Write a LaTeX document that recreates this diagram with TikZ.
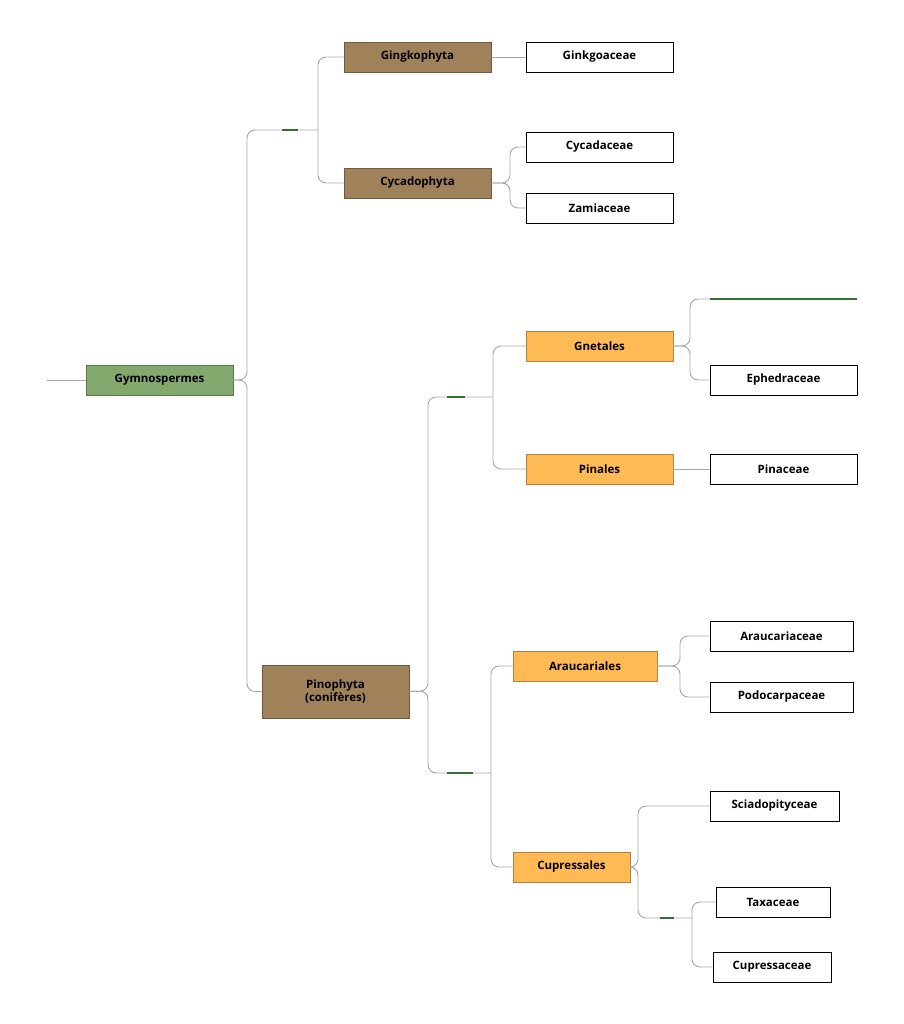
\documentclass[tikz,border=0pt]{standalone}
\usepackage{fontspec}
\setmainfont{Open Sans}
\begin{document}
\begin{tikzpicture}[x=1pt,y=-1pt,
 box/.style={draw=#1!70!black,line width=0.6pt,minimum height=30pt,font=\bfseries\fontsize{11.5}{13}\selectfont,inner sep=2pt},
 leaf/.style={draw=black,fill=white,line width=0.8pt,minimum width=147pt,minimum height=30pt,font=\bfseries\fontsize{11.5}{13}\selectfont},
 conn/.style={draw=gray!70,line width=0.9pt,rounded corners=8pt},
 gbar/.style={draw=green!40!black!60!gray,line width=1.6pt}]
\useasboundingbox (0,0) rectangle (903,1024);
\definecolor{gr}{HTML}{82A86E}\definecolor{br}{HTML}{A0825A}\definecolor{og}{HTML}{FFB955}
\node[box=gr,fill=gr,minimum width=147pt] (gym) at (159.5,380) {Gymnospermes};
\node[box=br,fill=br,minimum width=147pt] (gink) at (417.5,57) {Gingkophyta};
\node[box=br,fill=br,minimum width=147pt] (cyc) at (417.5,183) {Cycadophyta};
\node[box=br,fill=br,minimum width=147pt,minimum height=53pt,align=center] (pin) at (335.5,691.5) {Pinophyta\\(conifères)};
\node[box=og,fill=og,minimum width=147pt] (gne) at (599.5,346) {Gnetales};
\node[box=og,fill=og,minimum width=147pt] (pinl) at (599.5,469) {Pinales};
\node[box=og,fill=og,minimum width=144pt] (arau) at (585,666) {Araucariales};
\node[box=og,fill=og,minimum width=117pt] (cupl) at (571.5,867) {Cupressales};
\node[leaf] (ginkf) at (599.5,57) {Ginkgoaceae};
\node[leaf] (cycf) at (599.5,147) {Cycadaceae};
\node[leaf] (zam) at (599.5,208) {Zamiaceae};
\node[leaf] (eph) at (783.5,380) {Ephedraceae};
\node[leaf] (pinf) at (783.5,469) {Pinaceae};
\node[leaf,minimum width=143pt] (arf) at (781.5,636) {Araucariaceae};
\node[leaf,minimum width=143pt] (pod) at (781.5,697) {Podocarpaceae};
\node[leaf,minimum width=129pt] (sci) at (774.5,806) {Sciadopityceae};
\node[leaf,minimum width=114pt] (tax) at (773,902) {Taxaceae};
\node[leaf,minimum width=118pt] (cupf) at (772,967) {Cupressaceae};
\coordinate (s) at (47,380);
\coordinate (j1) at (318,130); \coordinate (b1a) at (282,130); \coordinate (b1b) at (298,130);
\coordinate (j2) at (493,397); \coordinate (b2a) at (447,397); \coordinate (b2b) at (465,397);
\coordinate (j3) at (491,773); \coordinate (b3a) at (447,773); \coordinate (b3b) at (473,773);
\coordinate (j4) at (692,918); \coordinate (b4a) at (660,918); \coordinate (b4b) at (674,918);
\coordinate (gl) at (710,299); \coordinate (gr2) at (857,299);
\draw[conn] (s) -- (gym.west);
\draw[conn] (gym.east) -- (247,380) |- (j1);
\draw[conn] (gym.east) -- (247,380) |- (pin.west);
\draw[conn] (j1) |- (gink.west); \draw[conn] (j1) |- (cyc.west);
\draw[conn] (gink.east) -- (ginkf.west);
\draw[conn] (cyc.east) -- (510,183) |- (cycf.west);
\draw[conn] (cyc.east) -- (510,183) |- (zam.west);
\draw[conn] (pin.east) -- (428,691) |- (j2);
\draw[conn] (pin.east) -- (428,691) |- (j3);
\draw[conn] (j2) |- (gne.west); \draw[conn] (j2) |- (pinl.west);
\draw[conn] (j3) |- (arau.west); \draw[conn] (j3) |- (cupl.west);
\draw[conn] (gne.east) -- (690,346) |- (gl);
\draw[conn] (gne.east) -- (690,346) |- (eph.west);
\draw[conn] (pinl.east) -- (pinf.west);
\draw[conn] (arau.east) -- (680,666) |- (arf.west);
\draw[conn] (arau.east) -- (680,666) |- (pod.west);
\draw[conn] (cupl.east) -- (638,867) |- (sci.west);
\draw[conn] (cupl.east) -- (638,867) |- (j4);
\draw[conn] (j4) |- (tax.west); \draw[conn] (j4) |- (cupf.west);
\draw[gbar] (b1a) -- (b1b); \draw[gbar] (b2a) -- (b2b); \draw[gbar] (b3a) -- (b3b); \draw[gbar] (b4a) -- (b4b);
\draw[gbar,line width=1.2pt] (gl) -- (gr2);
\end{tikzpicture}
\end{document}
